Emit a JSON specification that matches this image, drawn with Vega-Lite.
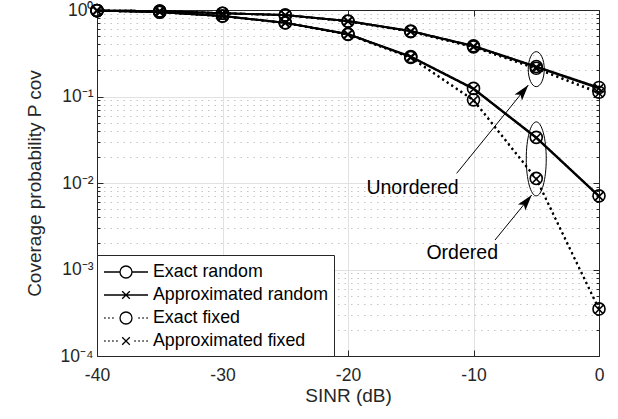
{
  "$schema": "https://vega.github.io/schema/vega-lite/v6.json",
  "width": 502,
  "height": 346,
  "autosize": {"type": "none"},
  "padding": {"left": 97, "top": 10, "right": 19, "bottom": 63},
  "background": "white",
  "config": {
    "font": "Liberation Sans",
    "view": {"stroke": null},
    "axis": {
      "labelFont": "Liberation Sans", "labelFontSize": 17.5, "labelColor": "#262626",
      "titleFont": "Liberation Sans", "titleFontSize": 19, "titleFontWeight": "normal", "titleColor": "#262626",
      "domainColor": "#262626", "tickColor": "#262626", "gridColor": "#e1e1e1",
      "domainWidth": 1, "tickWidth": 1, "labelOverlap": false, "labelFlush": false
    }
  },
  "datasets": {
    "main": [
      {"s": "Exact random", "f": "U", "x": -40, "y": 0.985}, {"s": "Exact random", "f": "U", "x": -35, "y": 0.972}, {"s": "Exact random", "f": "U", "x": -30, "y": 0.918}, {"s": "Exact random", "f": "U", "x": -25, "y": 0.875}, {"s": "Exact random", "f": "U", "x": -20, "y": 0.746}, {"s": "Exact random", "f": "U", "x": -15, "y": 0.572}, {"s": "Exact random", "f": "U", "x": -10, "y": 0.385}, {"s": "Exact random", "f": "U", "x": -5, "y": 0.222}, {"s": "Exact random", "f": "U", "x": 0, "y": 0.127},
      {"s": "Approximated random", "f": "U", "x": -40, "y": 0.985}, {"s": "Approximated random", "f": "U", "x": -35, "y": 0.972}, {"s": "Approximated random", "f": "U", "x": -30, "y": 0.918}, {"s": "Approximated random", "f": "U", "x": -25, "y": 0.874}, {"s": "Approximated random", "f": "U", "x": -20, "y": 0.744}, {"s": "Approximated random", "f": "U", "x": -15, "y": 0.569}, {"s": "Approximated random", "f": "U", "x": -10, "y": 0.381}, {"s": "Approximated random", "f": "U", "x": -5, "y": 0.219}, {"s": "Approximated random", "f": "U", "x": 0, "y": 0.124},
      {"s": "Exact fixed", "f": "U", "x": -40, "y": 0.985}, {"s": "Exact fixed", "f": "U", "x": -35, "y": 0.971}, {"s": "Exact fixed", "f": "U", "x": -30, "y": 0.916}, {"s": "Exact fixed", "f": "U", "x": -25, "y": 0.872}, {"s": "Exact fixed", "f": "U", "x": -20, "y": 0.74}, {"s": "Exact fixed", "f": "U", "x": -15, "y": 0.563}, {"s": "Exact fixed", "f": "U", "x": -10, "y": 0.375}, {"s": "Exact fixed", "f": "U", "x": -5, "y": 0.212}, {"s": "Exact fixed", "f": "U", "x": 0, "y": 0.112},
      {"s": "Approximated fixed", "f": "U", "x": -40, "y": 0.985}, {"s": "Approximated fixed", "f": "U", "x": -35, "y": 0.971}, {"s": "Approximated fixed", "f": "U", "x": -30, "y": 0.916}, {"s": "Approximated fixed", "f": "U", "x": -25, "y": 0.871}, {"s": "Approximated fixed", "f": "U", "x": -20, "y": 0.738}, {"s": "Approximated fixed", "f": "U", "x": -15, "y": 0.56}, {"s": "Approximated fixed", "f": "U", "x": -10, "y": 0.372}, {"s": "Approximated fixed", "f": "U", "x": -5, "y": 0.209}, {"s": "Approximated fixed", "f": "U", "x": 0, "y": 0.109},
      {"s": "Exact random", "f": "O", "x": -40, "y": 0.985}, {"s": "Exact random", "f": "O", "x": -35, "y": 0.945}, {"s": "Exact random", "f": "O", "x": -30, "y": 0.853}, {"s": "Exact random", "f": "O", "x": -25, "y": 0.713}, {"s": "Exact random", "f": "O", "x": -20, "y": 0.528}, {"s": "Exact random", "f": "O", "x": -15, "y": 0.29}, {"s": "Exact random", "f": "O", "x": -10, "y": 0.124}, {"s": "Exact random", "f": "O", "x": -5, "y": 0.0337}, {"s": "Exact random", "f": "O", "x": 0, "y": 0.0071},
      {"s": "Approximated random", "f": "O", "x": -40, "y": 0.985}, {"s": "Approximated random", "f": "O", "x": -35, "y": 0.944}, {"s": "Approximated random", "f": "O", "x": -30, "y": 0.851}, {"s": "Approximated random", "f": "O", "x": -25, "y": 0.71}, {"s": "Approximated random", "f": "O", "x": -20, "y": 0.525}, {"s": "Approximated random", "f": "O", "x": -15, "y": 0.287}, {"s": "Approximated random", "f": "O", "x": -10, "y": 0.122}, {"s": "Approximated random", "f": "O", "x": -5, "y": 0.0332}, {"s": "Approximated random", "f": "O", "x": 0, "y": 0.007},
      {"s": "Exact fixed", "f": "O", "x": -40, "y": 0.985}, {"s": "Exact fixed", "f": "O", "x": -35, "y": 0.944}, {"s": "Exact fixed", "f": "O", "x": -30, "y": 0.851}, {"s": "Exact fixed", "f": "O", "x": -25, "y": 0.709}, {"s": "Exact fixed", "f": "O", "x": -20, "y": 0.522}, {"s": "Exact fixed", "f": "O", "x": -15, "y": 0.283}, {"s": "Exact fixed", "f": "O", "x": -10, "y": 0.0915}, {"s": "Exact fixed", "f": "O", "x": -5, "y": 0.0113}, {"s": "Exact fixed", "f": "O", "x": 0, "y": 0.00035},
      {"s": "Approximated fixed", "f": "O", "x": -40, "y": 0.985}, {"s": "Approximated fixed", "f": "O", "x": -35, "y": 0.943}, {"s": "Approximated fixed", "f": "O", "x": -30, "y": 0.849}, {"s": "Approximated fixed", "f": "O", "x": -25, "y": 0.706}, {"s": "Approximated fixed", "f": "O", "x": -20, "y": 0.519}, {"s": "Approximated fixed", "f": "O", "x": -15, "y": 0.28}, {"s": "Approximated fixed", "f": "O", "x": -10, "y": 0.09}, {"s": "Approximated fixed", "f": "O", "x": -5, "y": 0.0111}, {"s": "Approximated fixed", "f": "O", "x": 0, "y": 0.000345}
    ],
    "ell": [
      {"k": "U", "x": -5, "y": 0.207},
      {"k": "O", "x": -5, "y": 0.019}
    ],
    "arr": [
      {"x": -11.34, "y": 0.01294, "x2": -5.63, "y2": 0.1358},
      {"x": -8.29, "y": 0.00219, "x2": -5.36, "y2": 0.00727}
    ],
    "txt": [
      {"t": "Unordered", "x": -14.86, "y": 0.00875},
      {"t": "Ordered", "x": -10.9, "y": 0.00154}
    ],
    "dummy": [
      {"s": "Exact random", "x": 50, "y": 0.5}
    ]
  },
  "resolve": {"axis": {"x": "independent", "y": "independent"}},
  "layer": [
    {
      "data": {"name": "main"},
      "mark": {"type": "line", "strokeWidth": 2, "color": "black"},
      "encoding": {
        "x": {"field": "x", "type": "quantitative", "scale": {"domain": [-40, 0], "nice": false, "zero": false},
          "axis": {"values": [-40, -30, -20, -10, 0], "labelExpr": "'' + datum.value", "tickSize": -6, "labelPadding": 16, "grid": true, "title": "SINR (dB)", "titlePadding": 3}},
        "y": {"field": "y", "type": "quantitative", "scale": {"type": "log", "domain": [0.0001, 1], "nice": false},
          "axis": {"values": [0.0001, 0.001, 0.01, 0.1, 1], "labelExpr": "datum.value > 0.5 ? '10⁰' : datum.value > 0.05 ? '10⁻¹' : datum.value > 0.005 ? '10⁻²' : datum.value > 0.0005 ? '10⁻³' : '10⁻⁴'", "tickSize": -6, "labelPadding": 10, "grid": true, "title": "Coverage probability P ᴄᴏᴠ", "titlePadding": 16}},
        "strokeDash": {"field": "s", "type": "nominal", "scale": {"domain": ["Exact random", "Exact fixed", "Approximated random", "Approximated fixed"], "range": [[1, 0], [2, 3.5], [1, 0], [2, 3.5]]}, "legend": null},
        "detail": {"field": "f"}
      }
    },
    {
      "data": {"name": "main"},
      "transform": [{"filter": {"field": "s", "oneOf": ["Exact random", "Exact fixed"]}}],
      "mark": {"type": "point", "shape": "circle", "size": 145, "filled": false, "stroke": "black", "strokeWidth": 1.6, "opacity": 1},
      "encoding": {
        "x": {"field": "x", "type": "quantitative", "axis": {"orient": "top", "labels": false, "values": [-40, -30, -20, -10, 0], "tickSize": -6, "grid": false, "title": null}},
        "y": {"field": "y", "type": "quantitative", "axis": {"orient": "right", "labels": false, "values": [0.0001, 0.001, 0.01, 0.1, 1], "tickSize": -6, "grid": false, "title": null}}
      }
    },
    {
      "data": {"name": "main"},
      "transform": [{"filter": {"field": "s", "oneOf": ["Approximated random", "Approximated fixed"]}}],
      "mark": {"type": "point", "shape": "M-0.7,-0.7L0.7,0.7M0.7,-0.7L-0.7,0.7", "size": 145, "filled": false, "stroke": "black", "strokeWidth": 1.6, "opacity": 1},
      "encoding": {
        "x": {"field": "x", "type": "quantitative", "axis": null},
        "y": {"field": "y", "type": "quantitative", "axis": {"orient": "left", "labels": false, "domain": false, "values": [0.0002, 0.0003, 0.0004, 0.0005, 0.0006, 0.0007, 0.0008, 0.0009, 0.002, 0.003, 0.004, 0.005, 0.006, 0.007, 0.008, 0.009, 0.02, 0.03, 0.04, 0.05, 0.06, 0.07, 0.08, 0.09, 0.2, 0.3, 0.4, 0.5, 0.6, 0.7, 0.8, 0.9], "tickSize": -3, "grid": true, "gridDash": [1.5, 5], "gridColor": "#c4c4c4", "title": null}}
      }
    },
    {
      "data": {"name": "ell"},
      "transform": [{"filter": "datum.k == 'U'"}],
      "mark": {"type": "point", "shape": "M-0.457,0A0.457,1 0 1,0 0.457,0A0.457,1 0 1,0 -0.457,0", "size": 1225, "filled": false, "stroke": "black", "strokeWidth": 1, "opacity": 1},
      "encoding": {
        "x": {"field": "x", "type": "quantitative", "axis": null},
        "y": {"field": "y", "type": "quantitative", "axis": {"orient": "right", "labels": false, "domain": false, "values": [0.0002, 0.0003, 0.0004, 0.0005, 0.0006, 0.0007, 0.0008, 0.0009, 0.002, 0.003, 0.004, 0.005, 0.006, 0.007, 0.008, 0.009, 0.02, 0.03, 0.04, 0.05, 0.06, 0.07, 0.08, 0.09, 0.2, 0.3, 0.4, 0.5, 0.6, 0.7, 0.8, 0.9], "tickSize": -3, "grid": false, "title": null}}
      }
    },
    {
      "data": {"name": "ell"},
      "transform": [{"filter": "datum.k == 'O'"}],
      "mark": {"type": "point", "shape": "M-0.27,0A0.27,1 0 1,0 0.27,0A0.27,1 0 1,0 -0.27,0", "size": 5476, "filled": false, "stroke": "black", "strokeWidth": 1, "opacity": 1},
      "encoding": {
        "x": {"field": "x", "type": "quantitative", "axis": null},
        "y": {"field": "y", "type": "quantitative", "axis": null}
      }
    },
    {
      "data": {"name": "arr"},
      "mark": {"type": "rule", "color": "black", "strokeWidth": 1},
      "encoding": {
        "x": {"field": "x", "type": "quantitative", "axis": null},
        "y": {"field": "y", "type": "quantitative", "axis": null},
        "x2": {"field": "x2"},
        "y2": {"field": "y2"}
      }
    },
    {
      "data": {"name": "arr"},
      "mark": {"type": "point", "shape": "M0,0L0.3,1L0,0.78L-0.3,1Z", "size": 1024, "filled": true, "fill": "black", "strokeWidth": 0, "opacity": 1, "angle": 39},
      "encoding": {
        "x": {"field": "x2", "type": "quantitative", "axis": null},
        "y": {"field": "y2", "type": "quantitative", "axis": null}
      }
    },
    {
      "data": {"name": "txt"},
      "mark": {"type": "text", "font": "Liberation Sans", "fontSize": 19.5, "align": "center", "baseline": "middle", "color": "black"},
      "encoding": {
        "x": {"field": "x", "type": "quantitative", "axis": null},
        "y": {"field": "y", "type": "quantitative", "axis": null},
        "text": {"field": "t"}
      }
    },
    {
      "data": {"name": "dummy"},
      "mark": {"type": "point", "clip": true, "filled": false, "stroke": "black", "strokeWidth": 1.3, "opacity": 1},
      "encoding": {
        "x": {"field": "x", "type": "quantitative", "axis": null},
        "y": {"field": "y", "type": "quantitative", "axis": null},
        "shape": {"field": "s", "type": "nominal",
          "scale": {"domain": ["Exact random", "Approximated random", "Exact fixed", "Approximated fixed"],
            "range": [
              "M-1,0L0.6,0M1.8,0L3.4,0M0.6,0A0.6,0.6 0 1,0 1.8,0A0.6,0.6 0 1,0 0.6,0",
              "M-1,0L3.4,0M0.82,-0.38L1.58,0.38M1.58,-0.38L0.82,0.38",
              "M-0.97,0L-0.84,0M-0.57,0L-0.44,0M-0.17,0L-0.04,0M2.44,0L2.57,0M2.84,0L2.97,0M3.24,0L3.37,0M0.6,0A0.6,0.6 0 1,0 1.8,0A0.6,0.6 0 1,0 0.6,0",
              "M-0.97,0L-0.84,0M-0.57,0L-0.44,0M-0.17,0L-0.04,0M0.23,0L0.36,0M2.04,0L2.17,0M2.44,0L2.57,0M2.84,0L2.97,0M3.24,0L3.37,0M0.82,-0.38L1.58,0.38M1.58,-0.38L0.82,0.38"
            ]},
          "legend": {"title": null, "orient": "bottom-left", "offset": 0, "fillColor": "white", "strokeColor": "#262626", "padding": 6, "symbolSize": 400, "symbolStrokeWidth": 1.3, "symbolStrokeColor": "black", "symbolFillColor": "transparent", "labelFont": "Liberation Sans", "labelFontSize": 17.8, "labelColor": "black", "labelOffset": 28, "labelLimit": 400, "rowPadding": 3}
        }
      }
    }
  ]
}
